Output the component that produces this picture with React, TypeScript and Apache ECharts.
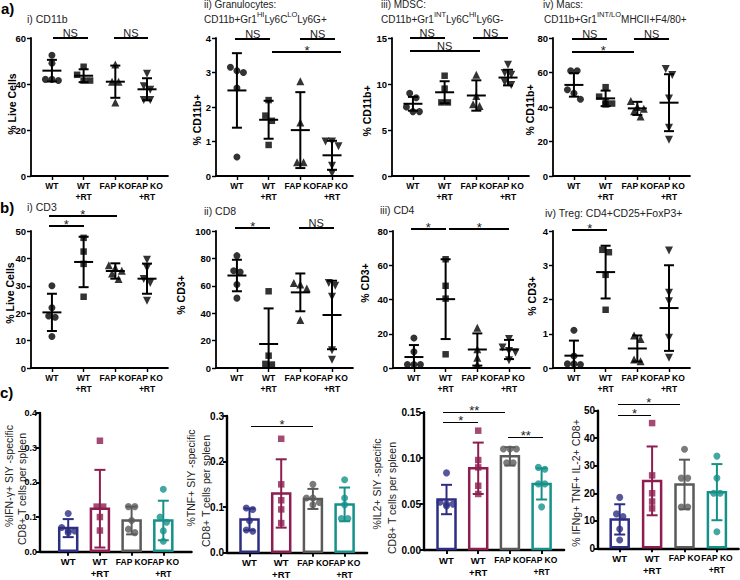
import React, { useEffect, useRef } from "react";
import * as echarts from "echarts";

const FONT = "'Liberation Sans', Arial, Helvetica, sans-serif";
const groups = ["WT", "WT\n+RT", "FAP KO", "FAP KO\n+RT"];

// a) i) CD11b (% live cells)
const cd11bPts = [[52.5, 49, 42, 42, 41.5], [47.5, 44, 41.5, 41.5], [48.5, 41, 41, 32], [44.5, 39, 37.5, 33, 33]];
const cd11bMean = [45.8, 43.6, 41, 37.7];
const cd11bSd = [4.7, 2.8, 7, 4.8];
const cd11bSig: [number, number, number, string][] = [[0.03, 1.13, 60, "NS"], [1.95, 3.03, 60, "NS"]];

// a) ii) Granulocytes (% CD11b+)
const granPts = [[3.15, 3.05, 3.0, 2.55, 0.55], [2.2, 1.75, 1.6, 0.9], [2.75, 1.55, 0.4, 0.4], [1.0, 1.0, 0.86, 0.3, 0.08]];
const granMean = [2.48, 1.63, 1.33, 0.6];
const granSd = [1.08, 0.55, 1.1, 0.42];
const granSig: [number, number, number, string][] = [[-0.05, 1.05, 3.96, "NS"], [2.0, 3.1, 3.96, "NS"], [1.12, 3.3, 3.6, "*"]];

// a) iii) MDSC (% CD11b+)
const mdscPts = [[9.0, 8.5, 7.5, 7.0, 7.0], [10.9, 9.5, 8.0, 8.0], [11.0, 8.7, 7.8, 7.6], [12.1, 11.2, 11.0, 10.2, 9.9]];
const mdscMean = [7.85, 9.1, 8.75, 10.7];
const mdscSd = [0.75, 1.2, 1.65, 0.85];
const mdscSig: [number, number, number, string][] = [[-0.1, 1.0, 15, "NS"], [1.9, 3.0, 15, "NS"], [-0.1, 2.1, 13.6, "NS"]];

// a) iv) Macs (% CD11b+)
const macPts = [[61, 61, 50, 48, 44.5], [51.5, 46, 43, 42, 41.5], [43.5, 40, 39, 37.5, 34.5], [62, 58.5, 45, 28, 21]];
const macMean = [52.8, 45, 39.2, 42.5];
const macSd = [6.8, 4.5, 3.8, 16.5];
const macSig: [number, number, number, string][] = [[-0.05, 1.05, 79.5, "NS"], [1.9, 3.0, 79.5, "NS"], [-0.05, 1.9, 72, "*"]];

// b) i) CD3 (% live cells)
const cd3Pts = [[30, 22, 19, 18.5, 11.5], [47.5, 42.5, 38, 26], [37.5, 36.5, 35.5, 34.5, 32.5], [39.5, 36.5, 32.5, 31, 24.5]];
const cd3Mean = [20.3, 38.7, 35.4, 32.6];
const cd3Sd = [6.8, 9.2, 2.8, 5.5];
const cd3Sig: [number, number, number, string][] = [[-0.1, 2.05, 55.6, "*"], [-0.1, 1.0, 51.7, "*"]];

// b) ii) CD8 (% CD3+)
const cd8Pts = [[82, 71, 70, 61, 51], [56, 9, 3, 2.5], [62, 61, 58, 35], [62, 60, 52, 13, 6]];
const cd8Mean = [67.5, 17.5, 55.2, 38.7];
const cd8Sd = [11.5, 26, 13.8, 25];
const cd8Sig: [number, number, number, string][] = [[-0.05, 1.05, 102, "*"], [1.95, 3.05, 102, "NS"]];

// b) iii) CD4 (% CD3+)
const cd4Pts = [[17.5, 9.5, 2, 2, 2], [63.5, 48, 40.5, 8], [23.5, 11, 6, 2], [17, 12, 10, 9, 4.5]];
const cd4Mean = [6.4, 40.2, 10.8, 10.8];
const cd4Sd = [7, 23.3, 9.4, 5.6];
const cd4Sig: [number, number, number, string][] = [[-0.1, 1.0, 81, "*"], [1.12, 3.0, 81, "*"]];

// b) iv) Treg (% CD3+)
const tregPts = [[1.1, 0.35, 0.12, 0.12, 0.1], [3.45, 3.38, 2.72, 1.7], [0.95, 0.85, 0.25, 0.2], [3.43, 2.2, 1.95, 0.88, 0.3]];
const tregMean = [0.36, 2.8, 0.57, 1.75];
const tregSd = [0.44, 0.77, 0.38, 1.25];
const tregSig: [number, number, number, string][] = [[-0.05, 1.05, 4.03, "*"]];

// c) IFN-γ+ SIY-specific CD8+ T cells per spleen (%)
const ifnPts = [[0.11, 0.07, 0.06, 0.06, 0.055], [0.32, 0.13, 0.13, 0.1, 0.061], [0.13, 0.13, 0.09, 0.065, 0.055], [0.18, 0.1, 0.085, 0.06, 0.03]];
const ifnMean = [0.068, 0.124, 0.09, 0.09];
const ifnSd = [0.026, 0.112, 0.04, 0.057];
const ifnSig: [number, number, number, string][] = [];

// c) TNF+ SIY-specific
const tnfPts = [[0.098, 0.095, 0.07, 0.05, 0.047], [0.25, 0.15, 0.115, 0.095, 0.065], [0.15, 0.12, 0.12, 0.11, 0.105], [0.16, 0.12, 0.105, 0.075, 0.075]];
const tnfMean = [0.073, 0.13, 0.118, 0.106];
const tnfSd = [0.024, 0.075, 0.022, 0.037];
const tnfSig: [number, number, number, string][] = [[0.05, 2.0, 0.279, "*"]];

// c) IL2+ SIY-specific
const il2Pts = [[0.084, 0.052, 0.05, 0.05, 0.048], [0.13, 0.098, 0.09, 0.07, 0.061], [0.11, 0.11, 0.11, 0.095, 0.095], [0.09, 0.088, 0.072, 0.072, 0.047]];
const il2Mean = [0.055, 0.089, 0.102, 0.072];
const il2Sd = [0.016, 0.028, 0.01, 0.017];
const il2Sig: [number, number, number, string][] = [[-0.1, 1.85, 0.1506, "**"], [-0.1, 1.0, 0.139, "*"], [1.95, 3.05, 0.1234, "**"]];

// c) IFNg+ TNF+ IL-2+ CD8+ (%)
const triPts = [[18.5, 12.5, 11.5, 7, 3], [45.5, 26.5, 20, 17, 14.5], [36, 25.5, 25.5, 15, 15], [33.5, 25.5, 20, 20, 6]];
const triMean = [10.5, 24.5, 23.2, 20.4];
const triSd = [5.5, 12.5, 9, 10.2];
const triSig: [number, number, number, string][] = [[-0.05, 1.85, 52.6, "*"], [-0.05, 0.97, 48.4, "*"]];

const yMaxes = [60, 4, 15, 80, 50, 100, 80, 4, 0.4, 0.3, 0.15, 50];
const ySteps = [20, 1, 5, 20, 10, 20, 20, 1, 0.1, 0.1, 0.05, 10];
const yDecimals = [0, 0, 0, 0, 0, 0, 0, 0, 1, 1, 2, 0];

type Panel = {
  pts: number[][]; mean: number[]; sd: number[]; sig: [number, number, number, string][];
  yMax: number; yStep: number; dec: number; kind: "dot" | "bar";
  left: number; top: number; height: number; pad: number; sp: number; yFont: number;
};

const dataSets = [
  [cd11bPts, cd11bMean, cd11bSd, cd11bSig],
  [granPts, granMean, granSd, granSig],
  [mdscPts, mdscMean, mdscSd, mdscSig],
  [macPts, macMean, macSd, macSig],
  [cd3Pts, cd3Mean, cd3Sd, cd3Sig],
  [cd8Pts, cd8Mean, cd8Sd, cd8Sig],
  [cd4Pts, cd4Mean, cd4Sd, cd4Sig],
  [tregPts, tregMean, tregSd, tregSig],
  [ifnPts, ifnMean, ifnSd, ifnSig],
  [tnfPts, tnfMean, tnfSd, tnfSig],
  [il2Pts, il2Mean, il2Sd, il2Sig],
  [triPts, triMean, triSd, triSig],
] as any[];

// layout (pixels)
const layouts = [
  { left: 31, top: 38, height: 138, pad: 0.66, sp: 31.7, yFont: 9.5 },
  { left: 216, top: 38, height: 138, pad: 0.66, sp: 31.7, yFont: 9.5 },
  { left: 392, top: 38, height: 138, pad: 0.66, sp: 31.7, yFont: 9.5 },
  { left: 553, top: 38, height: 138, pad: 0.66, sp: 31.7, yFont: 9.5 },
  { left: 31, top: 231, height: 137, pad: 0.66, sp: 31.7, yFont: 9.5 },
  { left: 216, top: 231, height: 137, pad: 0.66, sp: 31.7, yFont: 9.5 },
  { left: 393, top: 231, height: 137, pad: 0.66, sp: 31.7, yFont: 9.5 },
  { left: 553, top: 231, height: 137, pad: 0.66, sp: 31.7, yFont: 9.5 },
  { left: 40, top: 413, height: 138.7, pad: 0.89, sp: 31.7, yFont: 9 },
  { left: 227, top: 416, height: 136.7, pad: 0.71, sp: 31.7, yFont: 10 },
  { left: 424, top: 412.3, height: 137.7, pad: 0.71, sp: 31.7, yFont: 10 },
  { left: 598, top: 410.7, height: 137.6, pad: 0.67, sp: 32.4, yFont: 10 },
];

const panels: Panel[] = dataSets.map((d, k) => ({
  pts: d[0], mean: d[1], sd: d[2], sig: d[3],
  yMax: yMaxes[k], yStep: ySteps[k], dec: yDecimals[k],
  kind: k < 8 ? "dot" : "bar",
  ...layouts[k],
}));

const groupColors = ["#2d2e82", "#8c1e50", "#5a5a5a", "#15918a"];
const dotSymbols = ["circle", "rect", "triangle", "triangle"];
const dotRot = [0, 0, 0, 180];
const dotSizes = [7, 6.5, 8, 8];
const barSymbols = ["circle", "rect", "circle", "circle"];
const barLabelSizes = [9.5, 9.5, 8.5, 8.5];

function swarm(vals: number[], pxPerUnit: number, stepCat: number): number[] {
  const idx = vals.map((_, i) => i).sort((a, b) => vals[b] - vals[a]);
  const off = new Array(vals.length).fill(0);
  let cluster: number[] = [];
  const flush = () => {
    const n = cluster.length;
    cluster.forEach((k, j) => (off[k] = (j - (n - 1) / 2) * stepCat));
    cluster = [];
  };
  idx.forEach((k) => {
    if (cluster.length && ((vals[cluster[cluster.length - 1]] - vals[k]) * pxPerUnit >= 6.5 || cluster.length >= 3)) flush();
    cluster.push(k);
  });
  flush();
  return off;
}

function ln(x1: number, y1: number, x2: number, y2: number, stroke: string, w: number) {
  return { type: "line", shape: { x1, y1, x2, y2 }, style: { stroke, lineWidth: w, fill: "none" } };
}

function txt(x: number, y: number, text: string, o: any = {}) {
  return {
    type: "text", x, y, rotation: o.rot || 0, silent: true,
    style: {
      text, fontFamily: FONT, fontSize: o.size || 10.5, fontWeight: o.weight || "normal",
      fill: o.fill || "#222", align: o.align || "left", textAlign: o.align || "left",
      verticalAlign: o.va || "middle", textVerticalAlign: o.va || "middle", rich: o.rich,
    },
  };
}

function buildOption() {
  const grid: any[] = [], xAxis: any[] = [], yAxis: any[] = [], series: any[] = [];
  panels.forEach((p, g) => {
    const isBar = p.kind === "bar";
    const width = (3 + 2 * p.pad) * p.sp;
    const lw = isBar ? 2.4 : 1.8;
    grid.push({ left: p.left, top: p.top, width, height: p.height, show: false });
    xAxis.push({
      type: "value", gridIndex: g, min: -p.pad, max: 3 + p.pad,
      splitLine: { show: false },
      axisLine: { show: true, onZero: false, lineStyle: { color: "#000", width: lw } },
      axisTick: { show: true, customValues: [0, 1, 2, 3], length: 4, lineStyle: { color: "#000", width: lw * 0.8 } },
      axisLabel: {
        show: !isBar,
        customValues: [0, 1, 2, 3], formatter: (v: number) => groups[Math.round(v)] ?? "",
        hideOverlap: false,
        fontFamily: FONT, fontWeight: "bold", fontSize: 8.5, lineHeight: 11,
        color: "#000", margin: 4,
      },
    });
    yAxis.push({
      type: "value", gridIndex: g, min: 0, max: p.yMax, interval: p.yStep,
      splitLine: { show: false },
      axisLine: { show: true, onZero: false, lineStyle: { color: "#000", width: lw } },
      axisTick: { show: true, length: 4, lineStyle: { color: "#000", width: lw * 0.8 } },
      axisLabel: {
        formatter: (v: number) => v.toFixed(p.dec), fontFamily: FONT, fontWeight: "bold",
        fontSize: p.yFont, color: "#000", margin: isBar ? 3 : 5,
      },
    });
    const pxPerUnit = p.height / p.yMax;
    const stepCat = 6.5 / p.sp;

    if (isBar) {
      series.push({
        type: "custom", xAxisIndex: g, yAxisIndex: g, z: 2, silent: true,
        itemStyle: { color: "#000" },
        data: p.mean.map((m, i) => [i, m]), encode: { x: 0, y: 1 },
        renderItem: (params: any, api: any) => {
          const i = api.value(0);
          const top = api.coord([i, api.value(1)]);
          const base = api.coord([i, 0]);
          return {
            type: "rect", shape: { x: top[0] - 9, y: top[1], width: 18, height: base[1] - top[1] - 1 },
            style: { fill: "none", stroke: groupColors[i], lineWidth: 2.5 },
          };
        },
      });
      // category labels under the x axis
      series.push({
        type: "custom", xAxisIndex: g, yAxisIndex: g, z: 2, silent: true,
        data: groups.map((_, i) => [i, 0]), encode: { x: 0, y: 1 },
        renderItem: (params: any, api: any) => {
          const c = api.coord([api.value(0), 0]);
          return {
            type: "text", x: c[0], y: c[1] + 4,
            style: {
              text: groups[params.dataIndex], fontFamily: FONT, fontWeight: "bold",
              fontSize: barLabelSizes[params.dataIndex],
              lineHeight: 12, fill: "#000", align: "center", textAlign: "center",
              verticalAlign: "top", textVerticalAlign: "top",
            },
          };
        },
      });
    }
    series.push({
      type: "custom", xAxisIndex: g, yAxisIndex: g, z: 3, silent: true,
      itemStyle: { color: "#000" },
      data: p.mean.map((m, i) => [i, m, p.sd[i]]), encode: { x: 0, y: 1 },
      renderItem: (params: any, api: any) => {
        const i = api.value(0), m = api.value(1), s = api.value(2);
        const c = api.coord([i, m]);
        const t = api.coord([i, m + s]);
        const b = api.coord([i, Math.max(m - s, 0)]);
        const col = isBar ? groupColors[i] : "#000";
        const cap = isBar ? 5.5 : 5;
        const ch: any[] = [ln(c[0], t[1], c[0], b[1], col, 2), ln(c[0] - cap, t[1], c[0] + cap, t[1], col, 2)];
        if (m - s > 0) ch.push(ln(c[0] - cap, b[1], c[0] + cap, b[1], col, 2));
        if (!isBar) ch.push(ln(c[0] - 9.5, c[1], c[0] + 9.5, c[1], col, 2));
        return { type: "group", children: ch };
      },
    });
    const pts: any[] = [];
    p.pts.forEach((vals, i) => {
      const off = swarm(vals, pxPerUnit, stepCat);
      vals.forEach((v, j) => {
        pts.push({
          value: [i + off[j], v],
          symbol: isBar ? barSymbols[i] : dotSymbols[i],
          symbolRotate: isBar ? 0 : dotRot[i],
          symbolSize: isBar ? (i === 1 ? 6.5 : 7) : dotSizes[i],
          itemStyle: { color: isBar ? groupColors[i] : "#000" },
        });
      });
    });
    series.push({ type: "scatter", xAxisIndex: g, yAxisIndex: g, z: 4, silent: true, data: pts });
    if (p.sig.length) {
      const lwS = isBar ? 1 : 2;
      series.push({
        type: "custom", xAxisIndex: g, yAxisIndex: g, z: 5, silent: true,
        itemStyle: { color: "#000" },
        data: p.sig.map((s) => [s[0], s[1], s[2]]), encode: { x: [0, 1], y: 2 },
        renderItem: (params: any, api: any) => {
          const a = api.coord([api.value(0), api.value(2)]);
          const b = api.coord([api.value(1), api.value(2)]);
          const yy = Math.round(a[1]);
          const label = p.sig[params.dataIndex][3];
          const ns = label === "NS";
          return {
            type: "group",
            children: [
              {
                type: "rect",
                shape: { x: Math.round(a[0]), y: isBar ? yy : yy - 1, width: Math.round(b[0] - a[0]), height: lwS },
                style: { fill: "#000", stroke: "none" },
              },
              {
                type: "text", x: (a[0] + b[0]) / 2, y: ns ? yy : yy - 2,
                style: {
                  text: label, fontFamily: FONT, fontSize: ns ? 11 : 13, fill: "#222",
                  align: "center", textAlign: "center",
                  verticalAlign: ns ? "bottom" : "middle", textVerticalAlign: ns ? "bottom" : "middle",
                },
              },
            ],
          };
        },
      });
    }
  });

  const supRich = {
    m: { fontFamily: FONT, fontSize: 10, lineHeight: 14, verticalAlign: "bottom", fill: "#222" },
    s: { fontFamily: FONT, fontSize: 7.5, lineHeight: 14, verticalAlign: "top", fill: "#222" },
  };
  const R90 = Math.PI / 2;
  const yName = { rot: R90, align: "center", weight: "bold", size: 10.5, fill: "#000" };
  const cName = { rot: R90, align: "center", size: 10.5, fill: "#222" };
  const graphic: any[] = [
    txt(1, 8, "a)", { size: 15, weight: "bold", fill: "#000" }),
    txt(27, 18.5, "i) CD11b"),
    txt(204, 4.5, "ii) Granulocytes:", { size: 10 }),
    txt(204, 17.5, "{m|CD11b+Gr1}{s|HI}{m|Ly6C}{s|LO}{m|Ly6G+}", { rich: supRich }),
    txt(381, 4.5, "iii) MDSC:", { size: 10 }),
    txt(381, 17.5, "{m|CD11b+Gr1}{s|INT}{m|Ly6C}{s|HI}{m|Ly6G-}", { rich: supRich }),
    txt(543, 4.5, "iv) Macs:", { size: 10 }),
    txt(544, 17.5, "{m|CD11b+Gr1}{s|INT/LO}{m|MHCII+F4/80+}", { rich: supRich }),
    txt(0, 207, "b)", { size: 15, weight: "bold", fill: "#000" }),
    txt(27, 207, "i) CD3"),
    txt(204, 211, "ii) CD8"),
    txt(380, 210, "iii) CD4"),
    txt(545, 213, "iv) Treg: CD4+CD25+FoxP3+"),
    txt(0, 392, "c)", { size: 15, weight: "bold", fill: "#000" }),
    // y-axis names
    txt(12, 104, "% Live Cells", yName),
    txt(197, 120, "% CD11b+", yName),
    txt(367, 111, "% CD11b+", yName),
    txt(530, 110, "% CD11b+", yName),
    txt(10, 293, "% Live Cells", yName),
    txt(181, 295, "% CD3+", yName),
    txt(365, 283, "% CD3+", yName),
    txt(532, 296, "% CD3+", yName),
    txt(9, 476, "%IFN-γ+ SIY -specific", cName),
    txt(22, 489, "CD8+ T cells per spleen", cName),
    txt(191, 478, "%TNF+ SIY -specific", cName),
    txt(206, 491, "CD8+ T cells per spleen", cName),
    txt(377, 484, "%IL2+ SIY -specific", cName),
    txt(392, 498, "CD8+ T cells per spleen", cName),
    txt(576, 483, "% IFNg+ TNF+ IL-2+ CD8+", cName),
  ];

  return { animation: false, backgroundColor: "#fff", color: ["#111"], grid, xAxis, yAxis, series, graphic };
}

export default function App() {
  const ref = useRef<HTMLDivElement>(null);
  useEffect(() => {
    if (!ref.current) return;
    const chart = echarts.init(ref.current, undefined, { renderer: "svg" });
    chart.setOption(buildOption() as any);
    return () => chart.dispose();
  }, []);
  return <div ref={ref} style={{ position: "fixed", left: 0, top: 0, width: 740, height: 580 }} />;
}
